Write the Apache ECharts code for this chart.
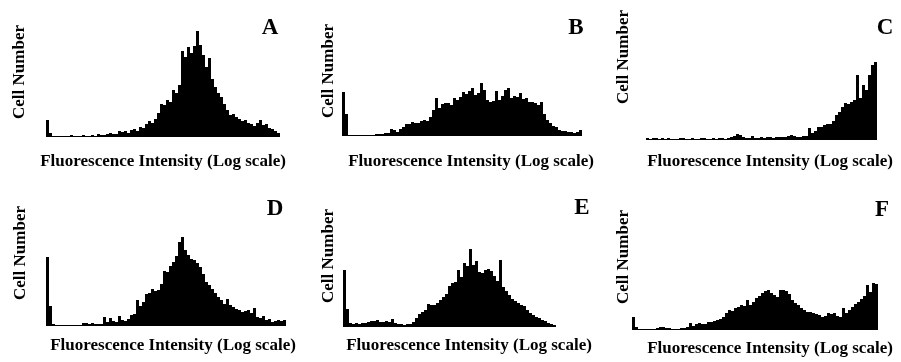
<!DOCTYPE html>
<html>
<head>
<meta charset="utf-8">
<script src="https://cdn.jsdelivr.net/npm/echarts@6/dist/echarts.min.js"></script>
<style>
  html, body { margin: 0; padding: 0; background: #fff; }
  #chart { width: 901px; height: 362px; }
</style>
</head>
<body>
<div id="chart"></div>
<script>
// panel letters and axis titles
const panelLetters = ['A', 'B', 'C', 'D', 'E', 'F'];
const xTitle = 'Fluorescence Intensity (Log scale)';
const yTitle = 'Cell Number';

// cell counts per fluorescence channel
const countsA = [17, 4, 1, 1, 1, 1, 1, 1, 2, 1, 1, 1, 2, 1, 1, 2, 1, 3, 2, 2,
  3, 4, 3, 3, 6, 5, 6, 4, 7, 8, 6, 10, 9, 13, 16, 14, 18, 24, 33, 32,
  37, 35, 47, 44, 52, 86, 80, 90, 84, 91, 106, 92, 82, 70, 79, 58, 50, 44, 40, 33,
  27, 22, 23, 20, 18, 16, 17, 14, 13, 11, 14, 17, 12, 13, 9, 8, 6, 4];
const countsB = [44, 22, 1, 1, 1, 1, 1, 1, 1, 1, 1, 2, 2, 2, 3, 3, 7, 6, 4, 7,
  9, 12, 12, 14, 13, 13, 15, 16, 15, 19, 26, 38, 28, 32, 33, 33, 31, 38, 36, 39,
  44, 42, 45, 48, 41, 43, 53, 46, 36, 34, 35, 45, 36, 40, 46, 48, 38, 40, 39, 43,
  37, 38, 34, 34, 33, 31, 34, 22, 16, 13, 10, 9, 6, 5, 5, 4, 4, 3, 4, 6];
const countsC = [2, 1, 2, 2, 1, 2, 1, 2, 1, 1, 1, 2, 2, 1, 1, 2, 1, 1, 2, 2,
  1, 1, 2, 1, 2, 2, 1, 2, 3, 4, 6, 5, 3, 2, 2, 4, 2, 2, 3, 2,
  3, 3, 2, 3, 3, 3, 3, 4, 5, 4, 3, 3, 4, 4, 12, 7, 9, 13, 13, 15,
  16, 16, 19, 25, 28, 33, 37, 36, 38, 40, 65, 42, 55, 50, 65, 75, 78];
const countsD = [69, 20, 2, 1, 1, 1, 1, 1, 1, 1, 1, 1, 3, 3, 2, 3, 2, 2, 2, 9,
  4, 8, 5, 4, 10, 6, 5, 7, 11, 12, 26, 20, 24, 32, 33, 37, 35, 36, 42, 55,
  54, 60, 64, 70, 84, 89, 76, 71, 67, 66, 63, 59, 52, 44, 41, 37, 33, 29, 26, 22,
  27, 21, 19, 17, 16, 14, 15, 16, 13, 18, 9, 8, 10, 6, 7, 4, 5, 6, 5, 6];
const countsE = [57, 18, 4, 3, 4, 3, 4, 4, 5, 6, 6, 7, 5, 5, 6, 5, 8, 4, 3, 3,
  2, 3, 3, 5, 9, 13, 15, 17, 23, 22, 22, 24, 27, 30, 33, 41, 44, 45, 57, 50,
  64, 61, 78, 62, 66, 55, 54, 57, 58, 56, 51, 46, 67, 40, 36, 32, 28, 26, 24, 22,
  21, 17, 14, 12, 10, 9, 7, 6, 4, 3, 2];
const countsF = [13, 3, 1, 1, 1, 1, 1, 1, 2, 3, 3, 2, 2, 1, 1, 1, 2, 2, 3, 7,
  4, 6, 7, 6, 6, 8, 8, 9, 10, 11, 13, 17, 20, 19, 22, 23, 25, 24, 30, 25,
  28, 32, 34, 37, 39, 40, 37, 35, 33, 40, 40, 39, 36, 30, 27, 25, 22, 20, 18, 18,
  17, 16, 15, 13, 14, 17, 16, 17, 14, 13, 22, 17, 20, 23, 26, 28, 31, 34, 45, 38,
  47, 46];

const panels = [countsA, countsB, countsC, countsD, countsE, countsF];

// plot placement: left edge, baseline y, text anchors
const layout = [
  { left: 46, base: 137, letter: [270, 28], cell: [20, 72], title: [163, 162] },
  { left: 342, base: 136, letter: [576, 28], cell: [329, 71], title: [471, 162] },
  { left: 646, base: 140, letter: [885, 28], cell: [624, 57], title: [770, 162] },
  { left: 46, base: 326, letter: [275, 209], cell: [21, 253], title: [173, 346] },
  { left: 343, base: 327, letter: [582, 208], cell: [329, 256], title: [469, 346] },
  { left: 632, base: 330, letter: [882, 210], cell: [624, 257], title: [770, 349] }
];
const binPx = 3;
const plotH = 110;
const serif = '"Liberation Serif", "DejaVu Serif", serif';

const chart = echarts.init(document.getElementById('chart'), null, { renderer: 'canvas' });

const grid = [], xAxis = [], yAxis = [], series = [], graphic = [];
panels.forEach((counts, i) => {
  const p = layout[i];
  grid.push({ left: p.left, top: p.base - plotH, width: counts.length * binPx, height: plotH });
  xAxis.push({
    gridIndex: i, type: 'category', data: counts.map((_, k) => k),
    show: false, boundaryGap: true
  });
  yAxis.push({ gridIndex: i, type: 'value', min: 0, max: plotH, show: false });
  series.push({
    type: 'bar', xAxisIndex: i, yAxisIndex: i, data: counts,
    barCategoryGap: '0%', itemStyle: { color: '#000' }, silent: true, animation: false
  });
  graphic.push({
    type: 'text', x: p.letter[0], y: p.letter[1],
    style: { text: panelLetters[i], font: 'bold 23px ' + serif, fill: '#000', textAlign: 'center', textVerticalAlign: 'middle' }
  });
  graphic.push({
    type: 'text', x: p.cell[0], y: p.cell[1], rotation: Math.PI / 2,
    style: { text: yTitle, font: 'bold 17px ' + serif, fill: '#000', textAlign: 'center', textVerticalAlign: 'middle' }
  });
  graphic.push({
    type: 'text', x: p.title[0], y: p.title[1],
    style: { text: xTitle, font: 'bold 17px ' + serif, fill: '#000', textAlign: 'center', textVerticalAlign: 'middle' }
  });
});

chart.setOption({
  backgroundColor: '#fff',
  animation: false,
  grid, xAxis, yAxis, series, graphic
});

window.addEventListener('resize', () => chart.resize());
</script>
</body>
</html>
